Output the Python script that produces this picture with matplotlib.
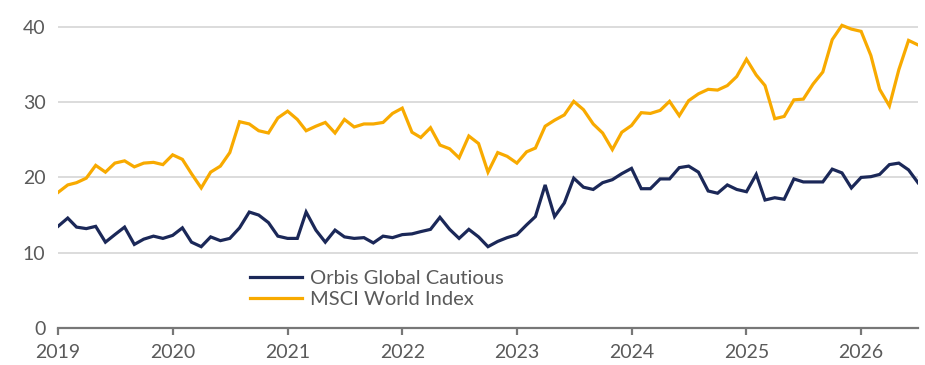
import matplotlib
matplotlib.use("Agg")
import matplotlib.pyplot as plt
import matplotlib.dates as mdates
import numpy as np
import pandas as pd

# monthly, Jan 2019 .. Jul 2026
START = "2019-01-01"

ORBIS = [
    13.5, 14.6, 13.4, 13.2, 13.5, 11.4, 12.4, 13.4, 11.1, 11.8, 12.2, 11.9,   # 2019
    12.3, 13.3, 11.4, 10.8, 12.1, 11.6, 11.9, 13.3, 15.4, 15.0, 14.0, 12.2,   # 2020
    11.9, 11.9, 15.4, 13.0, 11.4, 13.0, 12.1, 11.9, 12.0, 11.3, 12.2, 12.0,   # 2021
    12.4, 12.5, 12.8, 13.1, 14.7, 13.1, 11.9, 13.1, 12.1, 10.8, 11.5, 12.0,   # 2022
    12.4, 13.7, 14.8, 19.0, 14.8, 16.6, 19.9, 18.7, 18.4, 19.3, 19.7, 20.5,   # 2023
    21.2, 18.5, 18.5, 19.8, 19.8, 21.3, 21.5, 20.7, 18.2, 17.9, 19.0, 18.4,   # 2024
    18.1, 20.4, 17.0, 17.3, 17.1, 19.8, 19.4, 19.4, 19.4, 21.1, 20.6, 18.6,   # 2025
    20.0, 20.1, 20.4, 21.7, 21.9, 21.0, 19.3,                                 # 2026
]

MSCI = [
    18.0, 19.0, 19.3, 19.9, 21.6, 20.7, 21.9, 22.2, 21.4, 21.9, 22.0, 21.7,   # 2019
    23.0, 22.4, 20.5, 18.6, 20.7, 21.5, 23.3, 27.4, 27.1, 26.2, 25.9, 27.9,   # 2020
    28.8, 27.7, 26.2, 26.8, 27.3, 25.9, 27.7, 26.7, 27.1, 27.1, 27.3, 28.5,   # 2021
    29.2, 26.0, 25.3, 26.6, 24.3, 23.8, 22.6, 25.5, 24.5, 20.7, 23.3, 22.8,   # 2022
    21.9, 23.4, 23.9, 26.8, 27.6, 28.3, 30.1, 29.0, 27.1, 25.9, 23.7, 26.0,   # 2023
    26.9, 28.6, 28.5, 28.9, 30.1, 28.2, 30.2, 31.1, 31.7, 31.6, 32.2, 33.4,   # 2024
    35.7, 33.6, 32.2, 27.8, 28.1, 30.3, 30.4, 32.4, 34.0, 38.3, 40.2, 39.7,   # 2025
    39.4, 36.2, 31.7, 29.5, 34.3, 38.2, 37.6,                                 # 2026
]

LABELS = ["Orbis Global Cautious", "MSCI World Index"]
COLORS = ["#1b2858", "#f8aa00"]
Y_TICKS = [0, 10, 20, 30, 40]
TEXT_GREY = "#5a5a5a"

plt.rcParams["font.family"] = ["Lato", "DejaVu Sans"]

dates = pd.date_range(START, periods=len(ORBIS), freq="MS")

fig = plt.figure(figsize=(9.25, 3.65), dpi=100)
ax = fig.add_axes([0.0627, 0.1014, 0.9297, 0.856])

for vals, color, label in zip([ORBIS, MSCI], COLORS, LABELS):
    ax.plot(dates, vals, color=color, linewidth=2.3, label=label,
            solid_joinstyle="miter", zorder=3)

ax.set_xlim(dates[0], dates[-1])
ax.set_ylim(0, 41.5)
ax.set_yticks(Y_TICKS)

ax.xaxis.set_major_locator(mdates.YearLocator())
ax.xaxis.set_major_formatter(mdates.DateFormatter("%Y"))

ax.grid(True, axis="y", color="#d9d9d9", linewidth=1.3, zorder=0)
for side in ["top", "right", "left"]:
    ax.spines[side].set_visible(False)
ax.spines["bottom"].set_color("#777777")
ax.spines["bottom"].set_linewidth(1.6)
ax.spines["bottom"].set_zorder(4)

ax.tick_params(axis="y", length=0, pad=9, labelsize=14, labelcolor=TEXT_GREY)
ax.tick_params(axis="x", length=5, width=1.6, color="#777777", pad=6.5,
               labelsize=14, labelcolor=TEXT_GREY)

leg = ax.legend(loc="center left", bbox_to_anchor=(0.2233, 0.125),
                frameon=False, fontsize=14.5, handlelength=2.6,
                handletextpad=0.4, labelspacing=0.22, borderpad=0,
                borderaxespad=0)
for txt in leg.get_texts():
    txt.set_color(TEXT_GREY)

fig.savefig("out.png", dpi=100)
